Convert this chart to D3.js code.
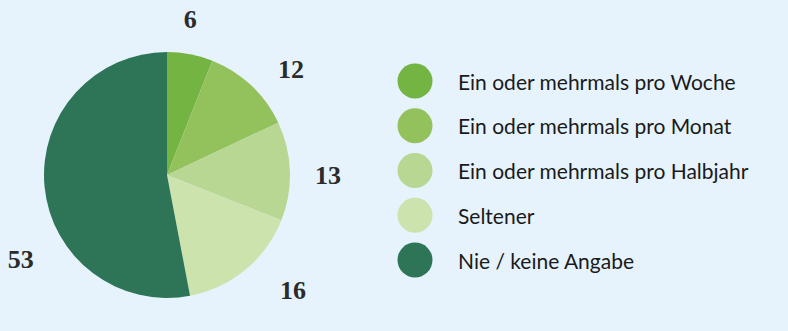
<!DOCTYPE html>
<html><head><meta charset="utf-8">
<script src="https://cdn.jsdelivr.net/npm/d3@7"></script>
<style>
html,body{margin:0;padding:0;background:#e6f3fc;}
svg{display:block;}
</style></head>
<body>
<svg id="chart" width="788" height="331"></svg>
<script>
const categories = ["Ein oder mehrmals pro Woche","Ein oder mehrmals pro Monat","Ein oder mehrmals pro Halbjahr","Seltener","Nie / keine Angabe"];
const values = [6, 12, 13, 16, 53];
const colors = ["#74b443","#93c15c","#b8d793","#cde3ad","#2e7557"];
// label placement (layout): angle in degrees from top, distance from center
const labelAngles = [8.5, 49.5, 90, 132.5, 240];
const labelRadii = [157, 163, 161, 171, 169];

const svg = d3.select("#chart");
const cx = 167, cy = 175, r = 123;
const g = svg.append("g").attr("transform", `translate(${cx},${cy})`);
const pie = d3.pie().sort(null).value(d => d)(values);
const arc = d3.arc().innerRadius(0).outerRadius(r);
g.selectAll("path").data(pie).join("path")
  .attr("d", arc).attr("fill", (d,i) => colors[i]);

g.selectAll("text.lbl").data(pie).join("text").attr("class","lbl")
  .attr("x", (d,i) => labelRadii[i]*Math.sin(labelAngles[i]*Math.PI/180))
  .attr("y", (d,i) => -labelRadii[i]*Math.cos(labelAngles[i]*Math.PI/180))
  .attr("text-anchor","middle").attr("dominant-baseline","central")
  .attr("font-family","'Liberation Serif','DejaVu Serif',serif")
  .attr("font-weight","bold").attr("font-size",26).attr("fill","#2b2b2b")
  .text(d => d.data);

const legend = svg.append("g");
const ly = d3.scalePoint().domain(categories).range([81, 260]);
legend.selectAll("circle").data(categories).join("circle")
  .attr("cx", 415).attr("cy", d => ly(d)).attr("r", 17.5)
  .attr("fill", (d,i) => colors[i]);
legend.selectAll("text").data(categories).join("text")
  .attr("x", 458).attr("y", d => ly(d)).attr("dominant-baseline","central")
  .attr("font-family","Lato,'Noto Sans',sans-serif").attr("font-size",21).attr("fill","#1a1a1a")
  .text(d => d);
</script>
</body></html>
